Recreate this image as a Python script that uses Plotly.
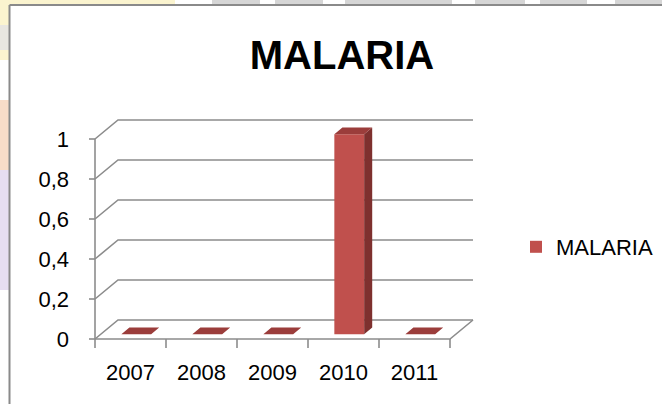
import plotly.graph_objects as go

# ---------------- data ----------------
categories = ["2007", "2008", "2009", "2010", "2011"]
values = [0, 0, 0, 1, 0]
y_tick_values = [0, 0.2, 0.4, 0.6, 0.8, 1]
y_tick_labels = ["0", "0,2", "0,4", "0,6", "0,8", "1"]
series_name = "MALARIA"
title_text = "MALARIA"

# ---------------- geometry / style ----------------
W, H = 662, 404
X0, SX = 95, 71      # pixel of category edge 0, pixels per category
Y0, SY = 339, 200    # pixel of value 0, pixels per unit value
L, R, T, B = 84, 482, 108, 352   # plot area in pixels
xr = [(L - X0) / SX, (R - X0) / SX]
yr = [(Y0 - B) / SY, (Y0 - T) / SY]

DX = 23 / SX   # 3-D depth offset (category units)
DY = 19 / SY   # 3-D depth offset (value units)
F0, F1 = 0.25, 0.60   # bar depth slice
BW = 0.42             # bar width (category units)

FONT = "Liberation Sans, Arial, sans-serif"
GRID = "#8c8c8c"
C_FRONT = "#C0504D"
C_SIDE = "#7E302E"
C_TOP = "#9B3D3B"

n = len(categories)

fig = go.Figure()

# ----- back wall gridlines + floor (base axes) -----
gx, gy = [], []
for v in y_tick_values:
    gx += [0, DX, n + DX, None]
    gy += [v, v + DY, v + DY, None]
# floor front edge and right diagonal
gx += [0, n, n + DX, None]
gy += [0, 0, DY, None]
# front vertical axis
gx += [0, 0, None]
gy += [0, max(y_tick_values), None]
# y tick marks
for v in y_tick_values:
    gx += [-6 / SX, 0, None]
    gy += [v, v, None]
# x tick marks at category boundaries
for i in range(n + 1):
    gx += [i, i, None]
    gy += [0, -9 / SY, None]

fig.add_trace(go.Scatter(x=gx, y=gy, mode="lines",
                         line=dict(color=GRID, width=1.6),
                         hoverinfo="skip", showlegend=False,
                         xaxis="x", yaxis="y"))

# ----- bars (overlay axes so they sit above the gridlines) -----
centers = [i + 0.5 + F0 * DX for i in range(n)]
fig.add_trace(go.Bar(x=centers, y=values, base=F0 * DY, width=BW,
                     marker=dict(color=C_FRONT, line=dict(width=0)),
                     name=series_name, showlegend=True,
                     xaxis="x2", yaxis="y2"))

d = F1 - F0
sx, sy, tx, ty = [], [], [], []
for c, val in zip(centers, values):
    uL, uR = c - BW / 2, c + BW / 2
    base = F0 * DY
    top = base + val
    # top face
    tx += [uL, uR, uR + d * DX, uL + d * DX, uL, None]
    ty += [top, top, top + d * DY, top + d * DY, top, None]
    # side face
    if val > 0:
        sx += [uR, uR + d * DX, uR + d * DX, uR, uR, None]
        sy += [base, base + d * DY, top + d * DY, top, base, None]

fig.add_trace(go.Scatter(x=sx, y=sy, mode="lines", fill="toself",
                         fillcolor=C_SIDE, line=dict(width=0, color=C_SIDE),
                         hoverinfo="skip", showlegend=False,
                         xaxis="x2", yaxis="y2"))
fig.add_trace(go.Scatter(x=tx, y=ty, mode="lines", fill="toself",
                         fillcolor=C_TOP, line=dict(width=0, color=C_TOP),
                         hoverinfo="skip", showlegend=False,
                         xaxis="x2", yaxis="y2"))

# ----- background decoration (slide behind the chart) -----
def px_x(p):
    return (p - L) / (R - L)

def px_y(p):
    return (B - p) / (B - T)

shapes = []
def rect(x0, y0, x1, y1, color):
    shapes.append(dict(type="rect", xref="paper", yref="paper",
                       x0=px_x(x0), x1=px_x(x1), y0=px_y(y1), y1=px_y(y0),
                       fillcolor=color, line=dict(width=0), layer="below"))

rect(0, 0, 175, 5, "#fbf4cf")
for a, b in [(212, 260), (275, 323), (345, 452), (475, 525), (540, 587), (615, 662)]:
    rect(a, 0, b, 5, "#d6d6d6")
rect(0, 0, 9, 60, "#fbf4cf")
rect(0, 25, 9, 50, "#e8e6e0")
rect(0, 100, 9, 170, "#f8dcc8")
rect(0, 170, 9, 290, "#e6def1")
# chart frame
shapes.append(dict(type="line", xref="paper", yref="paper",
                   x0=px_x(9.5), x1=px_x(9.5), y0=px_y(5), y1=px_y(H + 2),
                   line=dict(color="#8a8a8a", width=2)))
shapes.append(dict(type="line", xref="paper", yref="paper",
                   x0=px_x(9.5), x1=px_x(W + 2), y0=px_y(5), y1=px_y(5),
                   line=dict(color="#8a8a8a", width=2)))

fig.update_layout(
    width=W, height=H,
    margin=dict(l=L, r=W - R, t=T, b=H - B, pad=0),
    paper_bgcolor="white", plot_bgcolor="rgba(0,0,0,0)",
    font=dict(family=FONT, color="black", size=22),
    title=dict(text="<b>" + title_text + "</b>", xref="container", yref="container",
               x=342 / W, xanchor="center", y=1 - 55 / H, yanchor="middle",
               font=dict(family=FONT, size=40, color="black")),
    xaxis=dict(range=xr, showgrid=False, zeroline=False, showline=False,
               tickmode="array", tickvals=[i + 0.5 for i in range(n)],
               ticktext=categories, ticks="", ticklabelstandoff=5,
               tickfont=dict(family=FONT, size=22, color="black"),
               fixedrange=True),
    yaxis=dict(range=yr, showgrid=False, zeroline=False, showline=False,
               tickmode="array", tickvals=y_tick_values, ticktext=y_tick_labels,
               ticks="", ticklabelstandoff=14,
               tickfont=dict(family=FONT, size=22, color="black"),
               fixedrange=True),
    xaxis2=dict(range=xr, overlaying="x", visible=False, fixedrange=True),
    yaxis2=dict(range=yr, overlaying="y", visible=False, fixedrange=True),
    legend=dict(xref="container", yref="container", x=516 / W, xanchor="left",
                y=1 - 247 / H, yanchor="middle", bgcolor="rgba(0,0,0,0)",
                font=dict(family=FONT, size=22, color="black"),
                itemclick=False, itemdoubleclick=False),
    shapes=shapes,
    showlegend=True,
)

fig.write_html("out.html", config={"displayModeBar": False},
               post_script="document.body.style.margin='0';document.body.style.padding='0';")
